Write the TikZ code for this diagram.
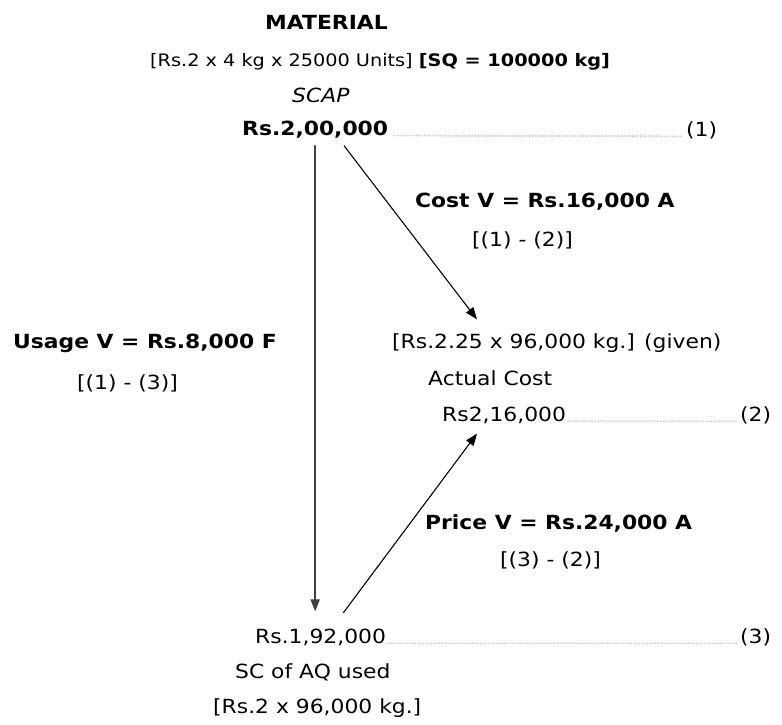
\documentclass[tikz,border=0pt]{standalone}
\usepackage{fontspec}
\setmainfont{DejaVu Sans}[FakeStretch=1.12]
\usetikzlibrary{arrows.meta,positioning,calc}

\tikzset{
  every node/.style={inner sep=0pt, anchor=west, font=\fontsize{19.5}{22}\selectfont},
  bold/.style={font=\fontsize{19.5}{22}\selectfont\bfseries},
  small/.style={font=\fontsize{17.2}{20}\selectfont},
  lead/.style={dotted, line width=0.7pt, gray!70!black},
  varrow/.style={-{Triangle[length=12pt,width=9pt]}, line width=1.6pt, black!75},
  darrow/.style={-{Triangle[length=12pt,width=9pt]}, line width=1.1pt}
}

\begin{document}
\begin{tikzpicture}[x=1pt, y=-1pt, line cap=round, line join=round]
\useasboundingbox[fill=white] (0,0) rectangle (782,724);

% standard cost of actual production
\node[bold] (mat) at (265,22) {MATERIAL};
\node[small] (qty) at (150,62) {[Rs.2 x 4 kg x 25000 Units] \textbf{[SQ = 100000 kg]}};
\node (scap) at (292,95) {\itshape SCAP};
\node[bold] (sc) at (242,130) {Rs.2,00,000};
\node (one) at (686,130) {(1)};
\draw[lead] (sc.base east) ++(6,0) -- ([xshift=-4pt]one.base west);

% actual cost
\node (given) at (392,343) {[Rs.2.25 x 96,000 kg.] (given)};
\node (actual) at (428,378) {Actual Cost};
\node (ac) at (442,415) {Rs2,16,000};
\node (two) at (740,415) {(2)};
\draw[lead] (ac.base east) ++(2,0) -- ([xshift=-2pt]two.base west);

% standard cost of actual quantity
\node (sq) at (255,637) {Rs.1,92,000};
\node (three) at (740,637) {(3)};
\draw[lead] (sq.base east) ++(2,0) -- ([xshift=-2pt]three.base west);
\node (scaq) at (235,672) {SC of AQ used};
\node (aq) at (213,708) {[Rs.2 x 96,000 kg.]};

% variances
\node[bold] (costv) at (415,202) {Cost V = Rs.16,000 A};
\node (costf) at (472,240) {[(1) - (2)]};
\node[bold] (usagev) at (13,343) {Usage V = Rs.8,000 F};
\node (usagef) at (77,383) {[(1) - (3)]};
\node[bold] (pricev) at (425,523) {Price V = Rs.24,000 A};
\node (pricef) at (500,560) {[(3) - (2)]};

\draw[varrow] ([yshift=-7pt]sc.south) -- ([yshift=17pt]sc.south |- sq.north);
\draw[darrow] ([xshift=29pt,yshift=-7pt]sc.south) -- ([xshift=85pt,yshift=14pt]given.north west);
\draw[darrow] ([xshift=23pt,yshift=16pt]sq.north) -- ([xshift=35pt,yshift=-10pt]ac.south west);

\end{tikzpicture}
\end{document}
